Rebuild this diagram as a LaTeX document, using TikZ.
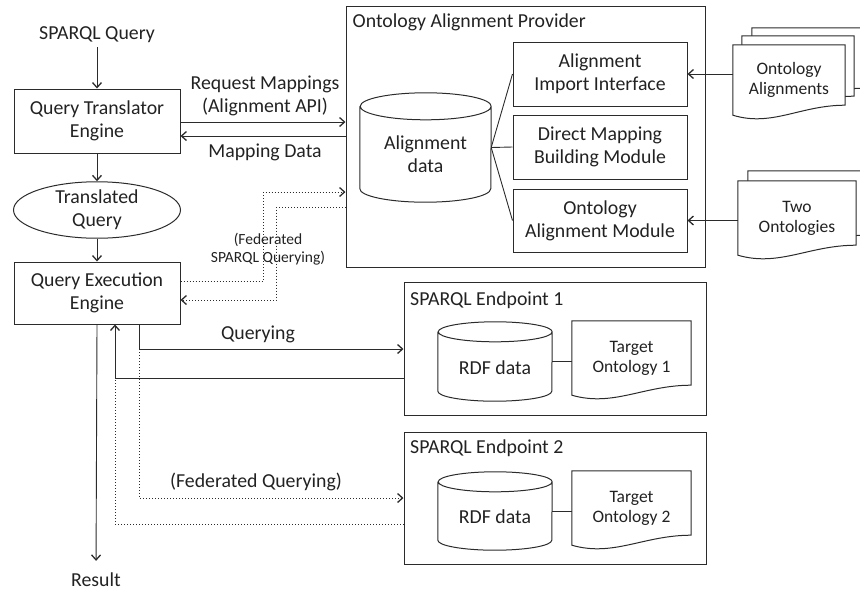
\documentclass[tikz,border=0pt]{standalone}
\usepackage{fontspec}
\setmainfont{Carlito}
\usetikzlibrary{arrows.meta,calc,shapes.geometric}
\pgfdeclarelayer{background}
\pgfsetlayers{background,main}
\definecolor{ln}{HTML}{2B2B2B}
\definecolor{txt}{HTML}{222222}
\newcommand\cylshape[3]{\draw[box] ([yshift=-#3]#1.north west) -- ([yshift=#3]#1.south west) arc[start angle=180,end angle=360,x radius=#2,y radius=#3] -- ([yshift=-#3]#1.north east) arc[start angle=0,end angle=180,x radius=#2,y radius=#3] arc[start angle=180,end angle=360,x radius=#2,y radius=#3];}
\newcommand\docshape[1]{\begin{pgfonlayer}{background}\draw[box,fill=white] (#1.south west) -- (#1.north west) -- (#1.north east) -- ([yshift=10pt]#1.south east) .. controls ($(#1.south east)!0.4!(#1.south west)+(0,10pt)$) and ($(#1.south west)!0.35!(#1.south east)+(0,-12pt)$) .. (#1.south west) -- cycle;\end{pgfonlayer}}
\begin{document}
\begin{tikzpicture}[x=1pt,y=-1pt,
  every node/.style={font=\fontsize{19.8}{23}\selectfont, text=txt, align=center, inner sep=0pt},
  box/.style={draw=ln, line width=1pt},
  rbox/.style={box, rectangle},
  docf/.style={font=\fontsize{17.5}{20}\selectfont},
  smallf/.style={font=\fontsize{15.5}{18.5}\selectfont},
  arr/.style={draw=ln, line width=0.9pt, -{Straight Barb[length=5pt,width=9pt,line width=1.3pt]}},
  dotl/.style={draw=ln, line width=0.9pt, dash pattern=on 1pt off 2pt},
  dotarr/.style={dotl, -{Straight Barb[length=5pt,width=9pt,line width=1.3pt]}},
  conn/.style={draw=ln, line width=0.9pt}]
\useasboundingbox (0,0) rectangle (860,592);

% left column
\node (sq) at (97,35) {SPARQL Query};
\node[rbox, minimum width=166pt, minimum height=64pt] (qte) at (97,121) {Query Translator\\Engine};
\node[box, ellipse, minimum width=167pt, minimum height=46pt] (tq) at (97,210) {Translated\\Query};
\node[rbox, minimum width=166pt, minimum height=62pt] (qee) at (97,293) {Query Execution\\Engine};
\node (res) at (96,580) {Result};

% Ontology Alignment Provider
\node[rbox, minimum width=359pt, minimum height=261pt] (oap) at (525.5,136.5) {};
\node[anchor=west] (oapt) at (352.5,22) {Ontology Alignment Provider};
\node[minimum width=131pt, minimum height=109pt, label={[yshift=-7pt]center:{Alignment\\data}}] (ad) at (425.5,147.5) {};
\cylshape{ad}{65.5pt}{13.5pt}
\node[rbox, minimum width=174pt, minimum height=64pt] (aii) at (600,74) {Alignment\\Import Interface};
\node[rbox, minimum width=174pt, minimum height=64pt] (dmbm) at (600,147) {Direct Mapping\\Building Module};
\node[rbox, minimum width=174pt, minimum height=63pt] (oam) at (600,220.5) {Ontology\\Alignment Module};

% documents on the right
\node[minimum width=112pt, minimum height=70pt] (oa3) at (808,63) {};
\docshape{oa3}
\node[minimum width=112pt, minimum height=70pt] (oa2) at (798,71) {};
\docshape{oa2}
\node[docf, minimum width=112pt, minimum height=70pt] (oa) at (789,80) {Ontology\\Alignments};
\docshape{oa}
\node[minimum width=118pt, minimum height=74pt] (tw2) at (807,208) {};
\docshape{tw2}
\node[docf, minimum width=118pt, minimum height=74pt] (tw) at (797,218) {Two\\Ontologies};
\docshape{tw}

% endpoints
\node[rbox, minimum width=302pt, minimum height=133pt] (ep1) at (555,348.5) {};
\node[anchor=west] (ep1t) at (410,300) {SPARQL Endpoint 1};
\node[minimum width=114pt, minimum height=79pt, label={[yshift=-6pt]center:RDF data}] (rdf1) at (495,361.5) {};
\cylshape{rdf1}{57pt}{10pt}
\node[docf, minimum width=119pt, minimum height=74pt] (to1) at (631.5,358) {Target\\Ontology 1};
\docshape{to1}

\node[rbox, minimum width=302pt, minimum height=132pt] (ep2) at (555,498) {};
\node[anchor=west] (ep2t) at (410,448) {SPARQL Endpoint 2};
\node[minimum width=114pt, minimum height=78pt, label={[yshift=-6pt]center:RDF data}] (rdf2) at (495,511) {};
\cylshape{rdf2}{57pt}{10pt}
\node[docf, minimum width=119pt, minimum height=74pt] (to2) at (631.5,508) {Target\\Ontology 2};
\docshape{to2}

% labels
\node (rm) at (265,96) {Request Mappings\\(Alignment API)};
\node (md) at (265,152) {Mapping Data};
\node[smallf] (fsq) at (268,249) {(Federated\\SPARQL Querying)};
\node (qy) at (258,334) {Querying};
\node (fq) at (256,482) {(Federated Querying)};

% helper coordinates
\coordinate (f1) at (263,192);
\coordinate (f2) at (276,207);
\coordinate (qx) at (139,349);
\coordinate (rx) at (115,378);
\coordinate (fx) at (139,498);
\coordinate (frx) at (115,524);

% connectors left column
\draw[arr, shorten <=4pt] (sq.south) -- (qte.north);
\draw[arr] (qte.south) -- (tq.north);
\draw[arr] (tq.south) -- (qee.north);
\draw[arr, shorten >=12pt] (qee.south) -- (res.north);

% to/from alignment provider
\draw[arr] ([yshift=-1pt]qte.east) -- ([yshift=-1pt]qte.east -| oap.west);
\draw[arr] ([yshift=-15pt]qte.east -| oap.west) -- ([yshift=-15pt]qte.east);
\draw[dotarr] ([yshift=12pt]qee.east) -| (f1) -- (f1 -| oap.west);
\draw[dotarr] (f2 -| oap.west) -- (f2) |- ([yshift=-7pt]qee.east);

% inside provider
\draw[conn] (ad.east) -- (aii.west);
\draw[conn] (ad.east) -- (dmbm.west);
\draw[conn] (ad.east) -- (oam.west);
\draw[arr] (aii.east -| oa.west) -- (aii.east);
\draw[arr] (oam.east -| tw.west) -- (oam.east);

% endpoints
\draw[conn] (rdf1.east) -- (rdf1.east -| to1.west);
\draw[conn] (rdf2.east) -- (rdf2.east -| to2.west);
\draw[arr] (qee.south -| qx) -- (qx) -- (qx -| ep1.west);
\draw[arr] (rx -| ep1.west) -- (rx) -- (rx |- qee.south);
\draw[dotarr] (qx) -- (fx) -- (fx -| ep2.west);
\draw[dotl] (frx -| ep2.west) -- (frx) -- (rx);
\end{tikzpicture}
\end{document}
